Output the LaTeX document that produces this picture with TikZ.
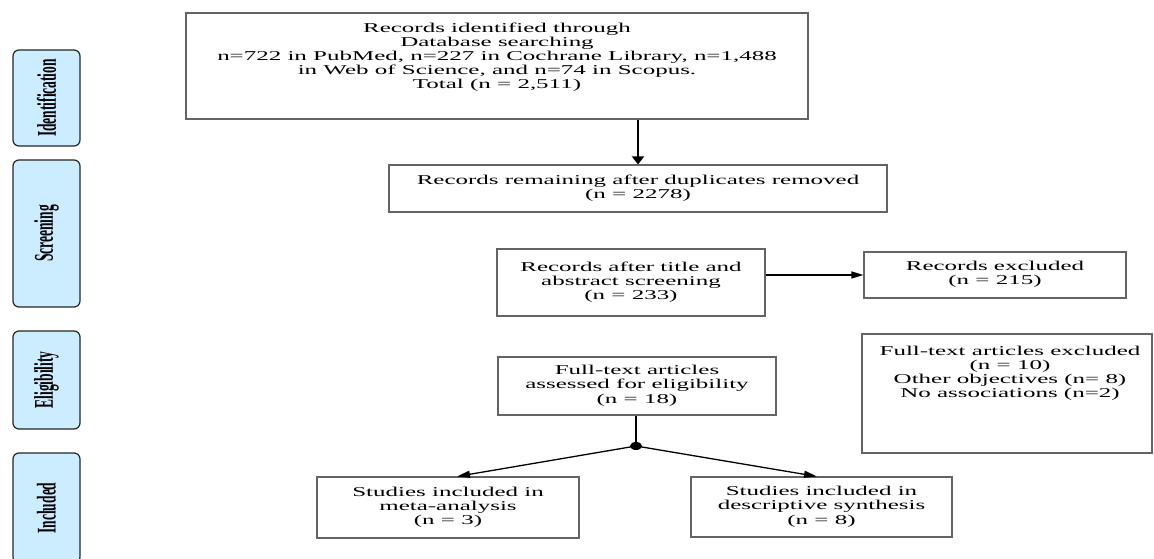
\documentclass[tikz,border=0pt]{standalone}
\usepackage{fontspec}
\setmainfont{Liberation Serif}
\usetikzlibrary{arrows.meta,shapes.geometric,calc}
\definecolor{phaseblue}{RGB}{204,236,255}
\definecolor{boxline}{RGB}{100,100,100}
\newcommand{\stt}[1]{\scalebox{1.85}[1]{\begin{tabular}{@{}c@{}}#1\end{tabular}}}
\newcommand{\phasetxt}[1]{\scalebox{2}[1]{\rotatebox{90}{\bfseries #1}}}
\begin{document}
\begin{tikzpicture}[x=1pt,y=-1pt,
  box/.style={draw=boxline, line width=1.1pt, inner sep=0pt, fill=white},
  txt/.style={inner sep=0pt, font=\fontsize{13.5}{14.2}\selectfont},
  phase/.style={draw=black!85, line width=1.2pt, fill=phaseblue, rounded corners=6pt, inner sep=0pt, minimum width=67pt, font=\fontsize{13.5}{14}\selectfont},
  arrv/.style={line width=2pt, -{Triangle[length=8pt,width=12pt]}},
  arrh/.style={line width=1.3pt, -{Triangle[length=12pt,width=7pt]}},
  arrd/.style={line width=1.3pt, -{Triangle[length=13pt,width=7pt]}}]
\useasboundingbox (0,0) rectangle (1154,559);
\begin{scope}
\clip (0,0) rectangle (1154,559);
\fill[white] (0,0) rectangle (1154,559);

% phase labels
\node[phase, minimum height=96pt] (pid) at (46.5,98) {\phasetxt{Identification}};
\node[phase, minimum height=147pt] (psc) at (46.5,233.5) {\phasetxt{Screening}};
\node[phase, minimum height=98pt] (pel) at (46.5,380) {\phasetxt{Eligibility}};
\node[phase, minimum height=110pt] (pin) at (46.5,508) {\phasetxt{Included}};

% boxes
\node[box, minimum width=622pt, minimum height=106pt] (id) at (497,66) {};
\node[txt, anchor=north] (idt) at (497,22) {\stt{Records identified through\\Database searching\\n=722 in PubMed, n=227 in Cochrane Library, n=1,488\\in Web of Science, and n=74 in Scopus.\\Total (n = 2,511)}};

\node[box, txt, minimum width=498pt, minimum height=47pt] (b2) at (638,188.5) {\stt{Records remaining after duplicates removed\\(n = 2278)}};

\node[box, txt, minimum width=268pt, minimum height=67pt] (b3) at (631,282.5) {\stt{Records after title and\\abstract screening\\(n = 233)}};

\node[box, txt, minimum width=262pt, minimum height=46pt] (rex) at (995,275) {\stt{Records excluded\\(n = 215)}};

\node[box, txt, minimum width=278pt, minimum height=58pt] (as) at (637,386) {\stt{Full-text articles\\assessed for eligibility\\(n = 18)}};

\node[box, minimum width=290pt, minimum height=119pt] (fex) at (1007,393.5) {};
\node[txt, anchor=north] (fext) at (1010,345) {\stt{Full-text articles excluded\\(n = 10)\\Other objectives (n= 8)\\No associations (n=2)}};

\node[box, txt, minimum width=262pt, minimum height=61pt] (meta) at (448,507.5) {\stt{Studies included in\\meta-analysis\\(n = 3)}};

\node[box, txt, minimum width=261pt, minimum height=60pt] (desc) at (821.5,507) {\stt{Studies included in\\descriptive synthesis\\(n = 8)}};

\node[ellipse, fill=black, minimum width=12pt, minimum height=8pt, inner sep=0pt] (dot) at (636,446) {};

% connectors
\draw[arrv] (b2.north |- id.south) -- (b2.north);
\draw[arrh] (b3.east |- rex.west) -- (rex.west);
\draw[line width=2.2pt] (as.south -| dot.center) -- (dot.center);
\draw[arrd] (dot.center) -- ($(meta.north)+(9,0)$);
\draw[arrd] (dot.center) -- ($(desc.north)+(-4.5,0)$);
\end{scope}
\end{tikzpicture}
\end{document}
